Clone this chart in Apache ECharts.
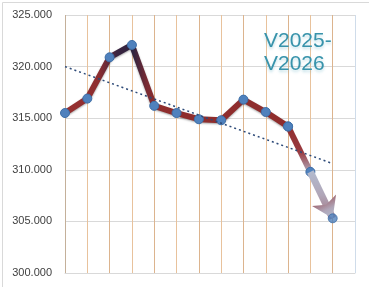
<!DOCTYPE html>
<html>
<head>
<meta charset="utf-8">
<script src="https://cdn.jsdelivr.net/npm/echarts@6/dist/echarts.min.js"></script>
<style>
  html, body { margin: 0; padding: 0; background: #fff; }
  #chart { width: 369px; height: 287px; }
</style>
</head>
<body>
<div id="chart"></div>
<script>
// 数据：13个点（x 为序号）
const xIndex = [0, 1, 2, 3, 4, 5, 6, 7, 8, 9, 10, 11, 12];
const values = [315.5, 316.9, 320.9, 322.1, 316.2, 315.5, 314.9, 314.8, 316.8, 315.6, 314.2, 309.8, 305.3];
// 趋势线两端
const trendX = [0, 12];
const trendY = [320.0, 310.6];
const yTicks = [300, 305, 310, 315, 320, 325];
const title = 'V2025-\nV2026';

const pts = xIndex.map((x, i) => [x, values[i]]);
const last = pts.length - 1;

const chart = echarts.init(document.getElementById('chart'));

// 竖线颜色：第一条是坐标轴位置，最后一条是右边框
const vColors = ['#c4b09a'];
for (let i = 1; i < 13; i++) vColors.push(i % 2 ? '#e8c29c' : '#dcb48e');
vColors.push('#cfdcea');

const pointStyle = { color: '#4f81bd', borderColor: '#3e6ea6', borderWidth: 1 };

const option = {
    animation: false,
    grid: { left: 65, top: 15, right: 14, bottom: 14 },
    xAxis: {
        type: 'value',
        min: 0,
        max: 13,
        interval: 1,
        axisLine: { show: true, lineStyle: { color: '#d9d9d9' } },
        axisTick: { show: false },
        axisLabel: { show: false },
        splitLine: { show: true, lineStyle: { color: vColors, width: 1 } },
    },
    yAxis: {
        type: 'value',
        min: yTicks[0],
        max: yTicks[yTicks.length - 1],
        interval: 5,
        axisLine: { show: false },
        axisTick: { show: false },
        axisLabel: {
            formatter: v => v.toFixed(3),
            fontFamily: 'Liberation Sans',
            fontSize: 11,
            color: '#404040',
            margin: 13,
        },
        splitLine: { show: true, lineStyle: { color: '#d9d9d9', width: 1 } },
    },
    graphic: [
        {
            type: 'rect',
            left: 0, top: 0,
            shape: { width: 368, height: 286 },
            style: { fill: 'none', stroke: '#d9d9d9', lineWidth: 1 },
            z: -1,
        },
        {
            type: 'text',
            left: 264,
            top: 30,
            style: {
                text: title,
                fontFamily: 'Liberation Sans',
                fontSize: 21,
                lineHeight: 23,
                align: 'center',
                fill: '#3893ab',
                textShadowColor: 'rgba(74,163,187,0.35)',
                textShadowBlur: 3,
                textShadowOffsetY: 2,
            },
            z: 10,
        },
    ],
    series: [
        {
            name: 'main',
            type: 'line',
            data: pts.slice(0, last - 1),
            symbol: 'circle',
            symbolSize: 9,
            itemStyle: pointStyle,
            lineStyle: {
                width: 6,
                color: {
                    type: 'linear', x: 0, y: 0, x2: 1, y2: 0,
                    colorStops: [
                        { offset: 0, color: '#983030' },
                        { offset: 0.16, color: '#8e2d2f' },
                        { offset: 0.24, color: '#3a2440' },
                        { offset: 0.31, color: '#2e2440' },
                        { offset: 0.37, color: '#7a2a32' },
                        { offset: 0.42, color: '#8f2d2d' },
                        { offset: 1, color: '#8f2d2d' },
                    ],
                },
                shadowColor: 'rgba(0,0,0,0.35)',
                shadowBlur: 2,
                shadowOffsetY: 1,
            },
            z: 3,
        },
        {
            name: 'tail',
            type: 'line',
            data: pts.slice(last - 2, last),
            symbol: 'circle',
            symbolSize: 9,
            itemStyle: pointStyle,
            lineStyle: {
                width: 6,
                color: {
                    type: 'linear', x: 0, y: 0, x2: 0, y2: 1,
                    colorStops: [
                        { offset: 0, color: '#8f2d2d' },
                        { offset: 0.55, color: '#9a3a40' },
                        { offset: 1, color: '#b0b8cc' },
                    ],
                },
            },
            markLine: {
                silent: true,
                symbol: ['none', 'arrow'],
                symbolSize: [20, 20],
                label: { show: false },
                lineStyle: {
                    type: 'solid',
                    width: 7,
                    color: {
                        type: 'linear', x: 0, y: 0, x2: 0, y2: 1,
                        colorStops: [
                            { offset: 0, color: '#b3bdd1' },
                            { offset: 0.5, color: '#b0a6b8' },
                            { offset: 1, color: '#a06c78' },
                        ],
                    },
                },
                data: [[{ coord: pts[last - 1] }, { coord: pts[last] }]],
            },
            z: 3,
        },
        {
            name: 'end',
            type: 'scatter',
            data: [pts[last]],
            symbol: 'circle',
            symbolSize: 9,
            itemStyle: pointStyle,
            z: 6,
        },
        {
            name: 'trend',
            type: 'line',
            data: trendX.map((x, i) => [x, trendY[i]]),
            symbol: 'none',
            lineStyle: { type: [2, 3], width: 1.5, color: '#2d4a78' },
            z: 5,
        },
    ],
};

chart.setOption(option);
</script>
</body>
</html>
